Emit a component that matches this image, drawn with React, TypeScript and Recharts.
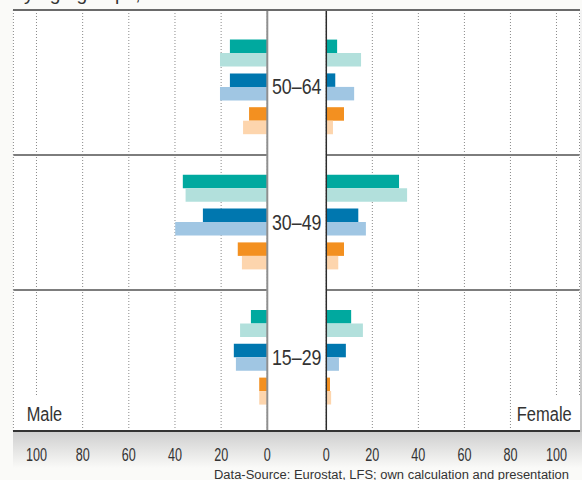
import { BarChart, Bar, XAxis, YAxis, CartesianGrid, ReferenceLine, Cell } from 'recharts';

// age groups, top to bottom
const ageGroups = ['50–64', '30–49', '15–29'];
const xTicks = [0, 20, 40, 60, 80, 100];

// Male, in %
const maleTeal = [16.2, 36.6, 7.1];
const maleTealLight = [20.5, 35.4, 11.8];
const maleBlue = [16.2, 27.9, 14.5];
const maleBlueLight = [20.5, 39.9, 13.6];
const maleOrange = [7.9, 12.8, 3.5];
const maleOrangeLight = [10.5, 11.0, 3.5];

// Female, in %
const femaleTeal = [4.7, 31.6, 10.8];
const femaleTealLight = [15.1, 35.1, 15.9];
const femaleBlue = [3.9, 13.9, 8.5];
const femaleBlueLight = [12.1, 17.2, 5.5];
const femaleOrange = [7.7, 7.7, 1.6];
const femaleOrangeLight = [2.9, 5.2, 2.1];

const pairColors = [
    ['#00a99f', '#b2e0dc'],
    ['#0077af', '#a0c6e3'],
    ['#f39020', '#fdd5ad']
];

const font = "'Liberation Sans', Arial, sans-serif";

type Row = { slot: string; dark?: number; light?: number; pair?: number };

// one row per colour pair, an empty row between the age groups
const buildRows = (pairs: number[][][]): Row[] => {
    const rows: Row[] = [];
    ageGroups.forEach((group, gi) => {
        if (gi > 0) rows.push({ slot: `gap${gi}` });
        pairs.forEach((pair, pi) => {
            rows.push({
                slot: pi === 1 ? group : `${group}-${pi}`,
                dark: pair[0][gi],
                light: pair[1][gi],
                pair: pi
            });
        });
    });
    return rows;
};

const maleRows = buildRows([
    [maleTeal, maleTealLight],
    [maleBlue, maleBlueLight],
    [maleOrange, maleOrangeLight]
]);
const femaleRows = buildRows([
    [femaleTeal, femaleTealLight],
    [femaleBlue, femaleBlueLight],
    [femaleOrange, femaleOrangeLight]
]);

// narrow look of the original font
const GroupTick = (props: any) => {
    const { x, y, payload } = props;
    if (!ageGroups.includes(payload.value)) return <g />;
    return (
        <text x={x - 29.6} y={y} dy={7} textAnchor="middle" textLength={49.5} lengthAdjust="spacingAndGlyphs"
            fontFamily={font} fontSize={22} fill="#333">
            {payload.value}
        </text>
    );
};

const NumTick = (props: any) => {
    const { x, y, payload } = props;
    const s = String(payload.value);
    return (
        <text x={x} y={y} dy={12} textAnchor="middle" textLength={7 * s.length} lengthAdjust="spacingAndGlyphs"
            fontFamily={font} fontSize={18} fill="#333">
            {s}
        </text>
    );
};

const Side = ({ rows, reversed }: { rows: Row[]; reversed: boolean }) => {
    const cells = (shade: number) =>
        rows.map((r, i) => (
            <Cell key={`cell-${i}`} fill={r.pair === undefined ? 'none' : pairColors[r.pair][shade]} />
        ));
    return (
        <BarChart
            width={reversed ? 290 : 315}
            height={480}
            data={rows}
            layout="vertical"
            margin={reversed ? { top: 10, right: 22.7, bottom: 9, left: 13.4 } : { top: 10, right: 2.5, bottom: 9, left: 0 }}
            barSize={13.5}
            barGap={0}
        >
            <CartesianGrid horizontal={false} strokeDasharray="1 2" stroke="#8a8a8a" />
            <XAxis
                type="number"
                domain={[0, 110]}
                ticks={xTicks}
                reversed={reversed}
                interval={0}
                axisLine={false}
                tickLine={false}
                tickSize={0}
                tickMargin={18}
                height={40}
                tick={<NumTick />}
            />
            <YAxis
                type="category"
                dataKey="slot"
                hide={reversed}
                width={59.3}
                padding={{ top: 26.6, bottom: 22.6 }}
                interval={0}
                axisLine={false}
                tickLine={false}
                tickSize={0}
                tickMargin={0}
                tick={<GroupTick />}
            />
            <ReferenceLine y="gap1" stroke="#7d7d7d" strokeWidth={2} />
            <ReferenceLine y="gap2" stroke="#7d7d7d" strokeWidth={2} />
            <Bar dataKey="dark" isAnimationActive={false}>{cells(0)}</Bar>
            <Bar dataKey="light" isAnimationActive={false}>{cells(1)}</Bar>
            <ReferenceLine x={0} stroke={reversed ? '#8f8f8f' : '#2b2b2b'} strokeWidth={reversed ? 2 : 1.5} />
        </BarChart>
    );
};

export default function App() {
    return (
        <div style={{ position: 'absolute', left: 0, top: 0, width: 582, height: 480, background: '#fafaf8', overflow: 'hidden', fontFamily: font }}>
            <div style={{ position: 'absolute', left: 13.4, top: 10, width: 566.4, height: 421, background: '#fff' }} />
            <div style={{ position: 'absolute', left: 13.4, top: 432, width: 569, height: 36, background: 'linear-gradient(#cfcfcf, #fafaf8)' }} />
            <div style={{ position: 'absolute', left: 579.8, top: 10, width: 3, height: 422, background: 'linear-gradient(#f4f4f4, #c4c4c4)' }} />
            <div style={{ position: 'absolute', left: 0, top: 0 }}>
                <Side rows={maleRows} reversed={true} />
            </div>
            <div style={{ position: 'absolute', left: 267.3, top: 0 }}>
                <Side rows={femaleRows} reversed={false} />
            </div>
            <div style={{ position: 'absolute', left: 13.4, top: 9, width: 566.4, height: 2, background: '#6a6a6a' }} />
            <div style={{ position: 'absolute', left: 13.4, top: 430, width: 566.4, height: 2, background: '#333' }} />
            <div style={{ position: 'absolute', left: 14, top: 396, width: 52, height: 34, background: '#fff' }} />
            <div style={{ position: 'absolute', left: 514, top: 396, width: 65.8, height: 34, background: '#fff' }} />
            <svg style={{ position: 'absolute', left: 0, top: 0 }} width={582} height={480}>
                <text x={13.4} y={0} textLength={170} lengthAdjust="spacingAndGlyphs"
                    fontFamily={font} fontSize={18} fill="#333">
                    by age groups, in %
                </text>
                <text transform="translate(26.7 421) scale(0.78 1)" fontFamily={font} fontSize={21} fill="#333">
                    Male
                </text>
                <text transform="translate(571.7 421) scale(0.785 1)" textAnchor="end" fontFamily={font} fontSize={21} fill="#333">
                    Female
                </text>
                <text x={569} y={478.5} textAnchor="end" textLength={355} lengthAdjust="spacingAndGlyphs"
                    fontFamily={font} fontSize={12.5} fill="#333">
                    Data-Source: Eurostat, LFS; own calculation and presentation
                </text>
            </svg>
        </div>
    );
}
